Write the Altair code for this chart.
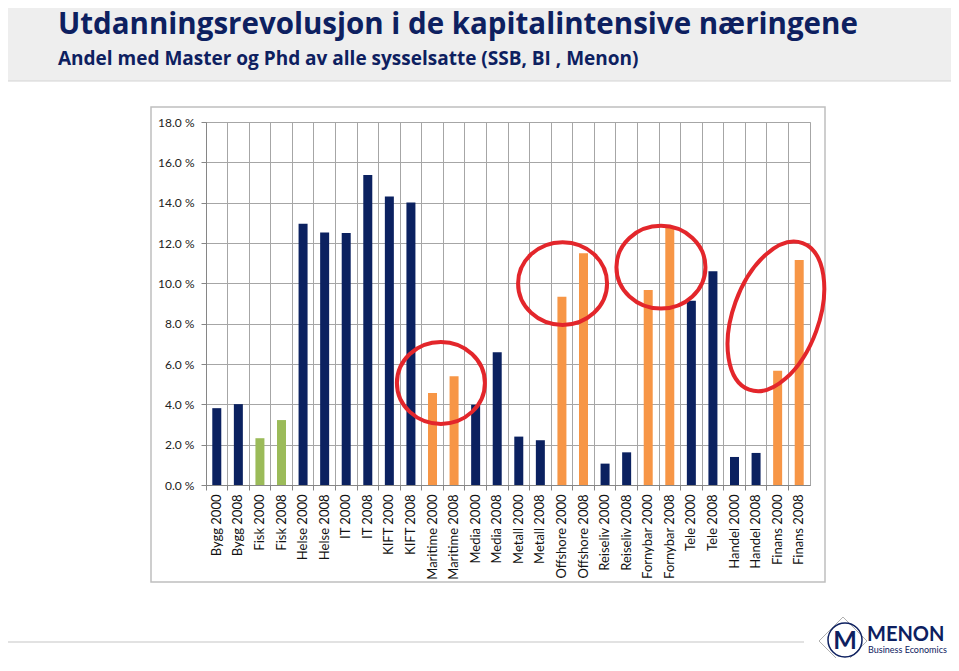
import altair as alt
import pandas as pd

# ---------------- data ----------------
categories = ["Bygg 2000", "Bygg 2008", "Fisk 2000", "Fisk 2008", "Helse 2000", "Helse 2008",
              "IT 2000", "IT 2008", "KIFT 2000", "KIFT 2008", "Maritime 2000", "Maritime 2008",
              "Media 2000", "Media 2008", "Metall 2000", "Metall 2008", "Offshore 2000",
              "Offshore 2008", "Reiseliv 2000", "Reiseliv 2008", "Fornybar 2000", "Fornybar 2008",
              "Tele 2000", "Tele 2008", "Handel 2000", "Handel 2008", "Finans 2000", "Finans 2008"]
values = [3.81, 4.01, 2.32, 3.22, 12.95, 12.52, 12.49, 15.37, 14.30, 14.01, 4.56, 5.39,
          3.98, 6.58, 2.40, 2.22, 9.34, 11.49, 1.06, 1.62, 9.67, 12.81, 9.14, 10.60,
          1.39, 1.59, 5.66, 11.16]
groups = ["base", "base", "fisk", "fisk", "base", "base", "base", "base", "base", "base",
          "kapital", "kapital", "base", "base", "base", "base", "kapital", "kapital",
          "base", "base", "kapital", "kapital", "base", "base", "base", "base",
          "kapital", "kapital"]
group_names = ["base", "fisk", "kapital"]
group_colors = ["#0b2160", "#9bbb59", "#f79646"]

# highlight ellipses (anchor category, position inside its band, centre value)
ellipse_cats = ["Maritime 2000", "Offshore 2000", "Fornybar 2008", "Finans 2000"]
ellipse_band = [0.89, 0.53, 0.09, 0.42]
ellipse_vals = [5.06, 9.99, 10.80, 8.36]

y_ticks = [0, 2, 4, 6, 8, 10, 12, 14, 16, 18]

title_text = "Utdanningsrevolusjon i de kapitalintensive næringene"
subtitle_text = "Andel med Master og Phd av alle sysselsatte (SSB, BI , Menon)"
logo_name = "MENON"
logo_sub = "Business Economics"
logo_letter = "M"

NAVY = "#0d2060"
RED = "#e3262b"
GRID = "#a6a6a6"

W, H = 604, 363

df = pd.DataFrame({"cat": categories, "val": values, "grp": groups})

x_enc = alt.X("cat:N", sort=categories, title=None,
              scale=alt.Scale(domain=categories, paddingInner=0, paddingOuter=0),
              axis=alt.Axis(bandPosition=0, labelAngle=270, labelFont="Lato", labelFontSize=13,
                            labelColor="#111111", labelPadding=4, tickSize=5, tickColor="#868686",
                            domainColor="#868686", grid=True, gridColor=GRID, gridWidth=1))
y_enc = alt.Y("val:Q", title=None,
              scale=alt.Scale(domain=[0, 18], nice=False, zero=True),
              axis=alt.Axis(values=y_ticks, labelExpr="format(datum.value, '.1f') + ' %'",
                            labelFont="Lato", labelFontSize=12, labelColor="#222222",
                            labelPadding=7, tickSize=5, tickColor="#868686",
                            domainColor="#868686", grid=True, gridColor=GRID, gridWidth=1))

bars = alt.Chart(df).mark_bar(width=9).encode(
    x=x_enc, y=y_enc,
    color=alt.Color("grp:N", scale=alt.Scale(domain=group_names, range=group_colors), legend=None),
)


def one(label):
    return pd.DataFrame({"label": [label]})


# decorative header band, frame and footer line
band = alt.Chart(one("band")).mark_rect(color="#eeeeee", stroke="#d4d4d4", strokeWidth=1).encode(
    x=alt.value(-200), x2=alt.value(746), y=alt.value(-116), y2=alt.value(-41))
frame = alt.Chart(one("frame")).mark_rect(fillOpacity=0, stroke="#bfbfbf", strokeWidth=1.5).encode(
    x=alt.value(-55), x2=alt.value(619), y=alt.value(-15), y2=alt.value(460))
footer_line = alt.Chart(one("line")).mark_rule(color="#e2e2e2", strokeWidth=2).encode(
    x=alt.value(-200), x2=alt.value(598), y=alt.value(520))

title = alt.Chart(one(title_text)).mark_text(
    font="Open Sans", fontWeight="bold", fontSize=29.5, color=NAVY, align="left", baseline="alphabetic"
).encode(x=alt.value(-148), y=alt.value(-88), text="label:N")
subtitle = alt.Chart(one(subtitle_text)).mark_text(
    font="Open Sans", fontWeight="bold", fontSize=19, color=NAVY, align="left", baseline="alphabetic"
).encode(x=alt.value(-148), y=alt.value(-57), text="label:N")

# ellipses
circle_path = "M -1 0 A 1 0.93 0 1 1 1 0 A 1 0.93 0 1 1 -1 0 Z"
long_path = "M -1 0 A 1 0.55 0 1 1 1 0 A 1 0.55 0 1 1 -1 0 Z"
ell_styles = [
    dict(shape=circle_path, size=88 * 88, angle=0),
    dict(shape=circle_path, size=89 * 89, angle=0),
    dict(shape=circle_path, size=89 * 89, angle=0),
    dict(shape=long_path, size=156 * 156, angle=290),
]
ellipses = []
for c, bp, v, st in zip(ellipse_cats, ellipse_band, ellipse_vals, ell_styles):
    ellipses.append(
        alt.Chart(pd.DataFrame({"cat": [c], "val": [v]})).mark_point(
            filled=False, color=RED, strokeWidth=4, opacity=1, **st
        ).encode(x=alt.X("cat:N", sort=categories, bandPosition=bp), y=alt.Y("val:Q"))
    )

# logo
logo_diamond = alt.Chart(one("d")).mark_point(shape="diamond", size=2300, filled=False,
                                              color="#9a9a9a", strokeWidth=0.8, opacity=1).encode(
    x=alt.value(637), y=alt.value(519))
logo_circle = alt.Chart(one("c")).mark_point(shape="circle", size=1156, filled=False,
                                             color=NAVY, strokeWidth=1.5, opacity=1).encode(
    x=alt.value(639), y=alt.value(518))
logo_m = alt.Chart(one(logo_letter)).mark_text(font="Lato", fontWeight="bold", fontSize=25,
                                               color=NAVY, align="center", baseline="alphabetic").encode(
    x=alt.value(639), y=alt.value(527), text="label:N")
logo_text = alt.Chart(one(logo_name)).mark_text(font="Lato", fontWeight="bold", fontSize=20,
                                                color=NAVY, align="left", baseline="alphabetic").encode(
    x=alt.value(661), y=alt.value(519), text="label:N")
logo_subtext = alt.Chart(one(logo_sub)).mark_text(font="Lato", fontSize=9, color=NAVY,
                                                  align="left", baseline="alphabetic").encode(
    x=alt.value(662), y=alt.value(531), text="label:N")

chart = alt.layer(
    band, frame, footer_line, bars, *ellipses, title, subtitle,
    logo_diamond, logo_circle, logo_m, logo_text, logo_subtext
).properties(
    width=W, height=H,
    autosize=alt.AutoSizeParams(type="none"),
    padding={"left": 198, "top": 114, "right": 141, "bottom": 173},
    background="white",
).configure_view(stroke=GRID, strokeWidth=1)

chart.save("out.html", embed_options={"renderer": "svg", "actions": False})
